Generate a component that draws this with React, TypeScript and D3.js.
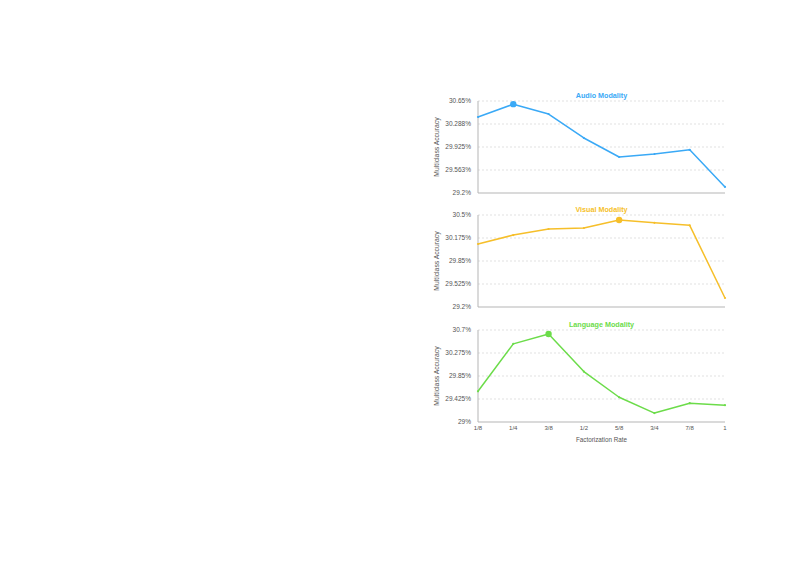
import { useLayoutEffect, useRef } from 'react'
import * as d3 from 'd3'

const rates = ['1/8', '1/4', '3/8', '1/2', '5/8', '3/4', '7/8', '1']

const audioValues = [30.398, 30.6, 30.445, 30.067, 29.767, 29.815, 29.88, 29.295]
const visualValues = [30.09, 30.217, 30.302, 30.316, 30.43, 30.39, 30.354, 29.327]
const languageValues = [29.567, 30.444, 30.627, 29.932, 29.457, 29.165, 29.347, 29.31]

const audioTicks = ['29.2%', '29.563%', '29.925%', '30.288%', '30.65%']
const visualTicks = ['29.2%', '29.525%', '29.85%', '30.175%', '30.5%']
const languageTicks = ['29%', '29.425%', '29.85%', '30.275%', '30.7%']

const panels = [
  { title: 'Audio Modality', color: '#3aa9f6', values: audioValues, domain: [29.2, 30.65], ticks: audioTicks, top: 101 },
  { title: 'Visual Modality', color: '#f6bf2a', values: visualValues, domain: [29.2, 30.5], ticks: visualTicks, top: 215 },
  { title: 'Language Modality', color: '#6cdc4a', values: languageValues, domain: [29.0, 30.7], ticks: languageTicks, top: 330 }
]

const App = () => {
  const ref = useRef<SVGSVGElement>(null)

  useLayoutEffect(() => {
    const svg = d3.select(ref.current)
    svg.selectAll('*').remove()
    const left = 478
    const right = 725
    const h = 92
    const font = 'Helvetica, Arial, "Liberation Sans", sans-serif'

    const x = d3.scalePoint<string>().domain(rates).range([left, right])

    panels.forEach((p, pi) => {
      const y = d3.scaleLinear().domain(p.domain).range([p.top + h, p.top])
      const g = svg.append('g')
      const tickVals = d3.range(5).map((i) => p.domain[0] + (i * (p.domain[1] - p.domain[0])) / 4)

      // gridlines
      g.selectAll('line.grid')
        .data(tickVals.slice(1))
        .enter()
        .append('line')
        .attr('x1', left)
        .attr('x2', right)
        .attr('y1', (d) => y(d))
        .attr('y2', (d) => y(d))
        .attr('stroke', '#d4d4d4')
        .attr('stroke-width', 0.7)
        .attr('stroke-dasharray', '2,2')

      // axes
      g.append('path')
        .attr('d', `M${left},${p.top}V${p.top + h}H${right}`)
        .attr('fill', 'none')
        .attr('stroke', '#b5b5b5')
        .attr('stroke-width', 1)

      g.selectAll('text.tick')
        .data(tickVals)
        .enter()
        .append('text')
        .attr('x', left - 7)
        .attr('y', (d) => y(d))
        .attr('dy', '0.35em')
        .attr('text-anchor', 'end')
        .attr('font-family', font)
        .attr('font-size', 6.5)
        .attr('fill', '#555')
        .text((d, i) => p.ticks[i])

      g.append('text')
        .attr('transform', `translate(439,${p.top + h / 2}) rotate(-90)`)
        .attr('text-anchor', 'middle')
        .attr('font-family', font)
        .attr('font-size', 6.8)
        .attr('fill', '#555')
        .text('Multiclass Accuracy')

      g.append('text')
        .attr('x', (left + right) / 2)
        .attr('y', p.top - 3.5)
        .attr('text-anchor', 'middle')
        .attr('font-family', font)
        .attr('font-size', 7.2)
        .attr('font-weight', 'bold')
        .attr('fill', p.color)
        .text(p.title)

      const line = d3
        .line<number>()
        .x((d, i) => x(rates[i]) as number)
        .y((d) => y(d))

      g.append('path')
        .datum(p.values)
        .attr('d', line)
        .attr('fill', 'none')
        .attr('stroke', p.color)
        .attr('stroke-width', 1.5)
        .attr('stroke-linejoin', 'round')

      const maxIdx = d3.maxIndex(p.values)
      g.selectAll('circle')
        .data(p.values)
        .enter()
        .append('circle')
        .attr('cx', (d, i) => x(rates[i]) as number)
        .attr('cy', (d) => y(d))
        .attr('r', (d, i) => (i === maxIdx ? 3.2 : 1.1))
        .attr('fill', p.color)

      if (pi === panels.length - 1) {
        g.selectAll('text.xt')
          .data(rates)
          .enter()
          .append('text')
          .attr('x', (d) => x(d) as number)
          .attr('y', p.top + h + 7.5)
          .attr('text-anchor', 'middle')
          .attr('font-family', font)
          .attr('font-size', 6)
          .attr('fill', '#555')
          .text((d) => d)

        g.append('text')
          .attr('x', (left + right) / 2)
          .attr('y', p.top + h + 20)
          .attr('text-anchor', 'middle')
          .attr('font-family', font)
          .attr('font-size', 6.3)
          .attr('fill', '#555')
          .text('Factorization Rate')
      }
    })
  }, [])

  return (
    <svg
      ref={ref}
      width={811}
      height={574}
      style={{ position: 'absolute', left: 0, top: 0, background: '#fff' }}
    />
  )
}

export default App
